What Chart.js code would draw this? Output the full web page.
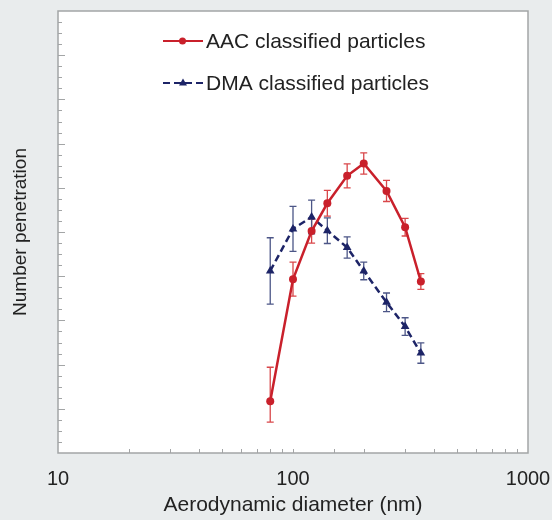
<!DOCTYPE html>
<html>
<head>
<meta charset="utf-8">
<script src="https://cdn.jsdelivr.net/npm/chart.js@4.4.1/dist/chart.umd.min.js"></script>
<style>
  html, body { margin: 0; padding: 0; background: #e9eced; }
  #wrap { width: 552px; height: 520px; position: relative; }
</style>
</head>
<body>
<div id="wrap"><canvas id="chart"></canvas></div>
<script>
// diameters in nm, penetration on an unlabeled 0..1 axis
const diameters = [80, 100, 120, 140, 170, 200, 250, 300, 350];

const aacPenetration = [0.117, 0.393, 0.502, 0.565, 0.627, 0.655, 0.593, 0.511, 0.388];
const aacErrUp = [0.077, 0.039, 0.027, 0.029, 0.027, 0.024, 0.024, 0.020, 0.018];
const aacErrDown = [0.047, 0.038, 0.027, 0.029, 0.027, 0.024, 0.024, 0.020, 0.018];

const dmaPenetration = [0.412, 0.507, 0.534, 0.503, 0.465, 0.412, 0.341, 0.286, 0.226];
const dmaErr = [0.075, 0.051, 0.038, 0.029, 0.024, 0.020, 0.021, 0.020, 0.023];

const xTickLabels = [10, 100, 1000];

const FONT = "'Liberation Sans', Arial, sans-serif";
const TEXT = '#222222';
const FRAME = '#a3a5a6';

function points(xs, ys) {
  return xs.map((x, i) => ({ x: x, y: ys[i] }));
}

const framePlugin = {
  id: 'frame',
  beforeDraw(chart) {
    const { ctx, chartArea: a } = chart;
    ctx.save();
    ctx.fillStyle = '#e9eced';
    ctx.fillRect(0, 0, chart.width, chart.height);
    ctx.fillStyle = '#ffffff';
    ctx.fillRect(a.left, a.top, a.right - a.left, a.bottom - a.top);
    ctx.restore();
  },
  beforeDatasetsDraw(chart) {
    const { ctx, chartArea: a, scales } = chart;
    ctx.save();
    ctx.strokeStyle = FRAME;
    ctx.lineWidth = 1;

    // inward tick marks on the left axis
    scales.y.ticks.forEach(t => {
      const major = Math.abs(t.value * 10 - Math.round(t.value * 10)) < 1e-6;
      if (t.value <= 0 || t.value >= 1) return;
      const py = Math.round(scales.y.getPixelForValue(t.value)) + 0.5;
      ctx.beginPath();
      ctx.moveTo(a.left, py);
      ctx.lineTo(a.left + (major ? 7 : 4), py);
      ctx.stroke();
    });

    // inward tick marks on the bottom axis
    scales.x.ticks.forEach(t => {
      if (t.value <= 10 || t.value >= 1000) return;
      const px = Math.round(scales.x.getPixelForValue(t.value)) + 0.5;
      ctx.beginPath();
      ctx.moveTo(px, a.bottom);
      ctx.lineTo(px, a.bottom - 4);
      ctx.stroke();
    });

    ctx.lineWidth = 1.5;
    ctx.strokeRect(a.left, a.top, a.right - a.left, a.bottom - a.top);

    // error bars
    chart.data.datasets.forEach(ds => {
      ctx.strokeStyle = ds.errColor;
      ctx.lineWidth = 1.3;
      ds.data.forEach((p, i) => {
        const px = scales.x.getPixelForValue(p.x);
        const top = scales.y.getPixelForValue(p.y + ds.errUp[i]);
        const bot = scales.y.getPixelForValue(p.y - ds.errDown[i]);
        ctx.beginPath();
        ctx.moveTo(px, top);
        ctx.lineTo(px, bot);
        ctx.moveTo(px - 3.5, top);
        ctx.lineTo(px + 3.5, top);
        ctx.moveTo(px - 3.5, bot);
        ctx.lineTo(px + 3.5, bot);
        ctx.stroke();
      });
    });
    ctx.restore();
  },
  afterDraw(chart) {
    // legend inside the plot
    const { ctx, chartArea: a } = chart;
    ctx.save();
    ctx.font = '21px ' + FONT;
    ctx.fillStyle = TEXT;
    ctx.textBaseline = 'alphabetic';
    const rows = [a.top + 30, a.top + 72];
    chart.data.datasets.forEach((ds, i) => {
      const y = rows[i];
      ctx.strokeStyle = ds.borderColor;
      ctx.lineWidth = 2;
      ctx.setLineDash(ds.borderDash || []);
      ctx.beginPath();
      ctx.moveTo(a.left + 105, y);
      ctx.lineTo(a.left + 145, y);
      ctx.stroke();
      ctx.setLineDash([]);
      ctx.fillStyle = ds.borderColor;
      ctx.beginPath();
      if (ds.pointStyle === 'triangle') {
        ctx.moveTo(a.left + 125, y - 4.5);
        ctx.lineTo(a.left + 129, y + 2.5);
        ctx.lineTo(a.left + 121, y + 2.5);
        ctx.closePath();
      } else {
        ctx.arc(a.left + 124.5, y, 3.5, 0, Math.PI * 2);
      }
      ctx.fill();
      ctx.fillStyle = TEXT;
      ctx.fillText(ds.label, a.left + 148, y + 7);
    });
    ctx.restore();
  }
};

new Chart(document.getElementById('chart'), {
  type: 'line',
  data: {
    datasets: [
      {
        label: 'AAC classified particles',
        data: points(diameters, aacPenetration),
        errUp: aacErrUp,
        errDown: aacErrDown,
        errColor: '#d9474a',
        borderColor: '#c9202b',
        backgroundColor: '#c9202b',
        borderWidth: 2.5,
        pointStyle: 'circle',
        pointRadius: 4,
        pointBackgroundColor: '#c9202b',
        pointBorderWidth: 0,
        tension: 0
      },
      {
        label: 'DMA classified particles',
        data: points(diameters, dmaPenetration),
        errUp: dmaErr,
        errDown: dmaErr,
        errColor: '#4c5687',
        borderColor: '#1d2467',
        backgroundColor: '#1d2467',
        borderWidth: 2.5,
        borderDash: [7, 4],
        pointStyle: 'triangle',
        pointRadius: 5,
        pointBackgroundColor: '#1d2467',
        pointBorderWidth: 0,
        tension: 0
      }
    ]
  },
  options: {
    responsive: true,
    maintainAspectRatio: false,
    animation: false,
    layout: { padding: { top: 11, right: 24, left: 0, bottom: 0 } },
    plugins: {
      legend: { display: false },
      tooltip: { enabled: false }
    },
    scales: {
      x: {
        type: 'logarithmic',
        min: 10,
        max: 1000,
        grid: { display: false },
        border: { display: false },
        ticks: {
          autoSkip: false,
          maxRotation: 0,
          padding: 6,
          color: TEXT,
          font: { family: FONT, size: 20 },
          callback: v => (xTickLabels.includes(v) ? String(v) : '')
        },
        title: {
          display: true,
          text: 'Aerodynamic diameter (nm)',
          color: TEXT,
          font: { family: FONT, size: 21 },
          padding: { top: 0, bottom: 2 }
        },
        afterFit: s => {
          s.height = 67;
          s.paddingLeft = 0;
          s.paddingRight = 0;
        }
      },
      y: {
        min: 0,
        max: 1,
        grid: { display: false },
        border: { display: false },
        ticks: { display: false, stepSize: 0.025 },
        title: {
          display: true,
          text: 'Number penetration',
          color: TEXT,
          font: { family: FONT, size: 19 },
          padding: { top: 9, bottom: 0 }
        },
        afterFit: s => { s.width = 58; }
      }
    }
  },
  plugins: [framePlugin]
});
</script>
</body>
</html>
